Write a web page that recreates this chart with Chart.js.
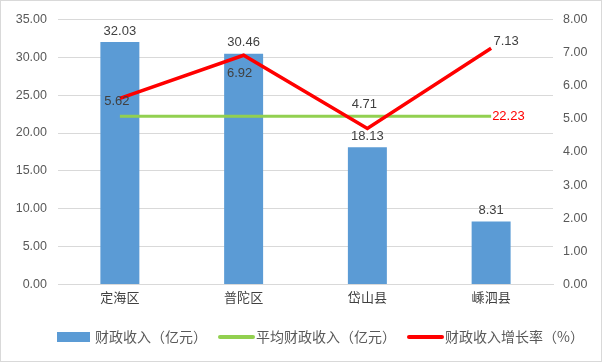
<!DOCTYPE html>
<html><head><meta charset="utf-8">
<script src="https://cdn.jsdelivr.net/npm/chart.js@4"></script>
<style>
html,body{margin:0;padding:0;background:#fff;}
#wrap{position:absolute;left:0;top:0;width:600px;height:360px;border:1px solid #d9d9d9;}
</style></head><body>
<div id="wrap"><canvas id="c" width="600" height="360"></canvas></div>
<script>
const categories = ['定海区','普陀区','岱山县','嵊泗县'];
const revenue = [32.03, 30.46, 18.13, 8.31];
const avgRevenue = [22.23, 22.23, 22.23, 22.23];
const growth = [5.62, 6.92, 4.71, 7.13];
const leftTicks = [0,5,10,15,20,25,30,35];
const rightTicks = [0,1,2,3,4,5,6,7,8];
const seriesNames = ['财政收入（亿元）','平均财政收入（亿元）','财政收入增长率（%）'];

const FONT = '"Noto Sans CJK SC", "Noto Sans", sans-serif';
const NUMFONT = '"Liberation Sans", Arial, sans-serif';

const labelPlugin = {
  id:'labels',
  afterDatasetsDraw(chart){
    const ctx = chart.ctx;
    ctx.save();
    ctx.font = '13px ' + NUMFONT;
    ctx.textAlign='center';
    ctx.textBaseline='middle';
    chart.getDatasetMeta(0).data.forEach((el,i)=>{
      ctx.fillStyle='#404040';
      ctx.fillText(revenue[i].toFixed(2), el.x, el.y-11);
    });
    const am = chart.getDatasetMeta(1).data;
    const last = am[am.length-1];
    ctx.fillStyle='#ff0000';
    ctx.textAlign='left';
    ctx.fillText(avgRevenue[avgRevenue.length-1].toFixed(2), last.x+1, last.y);
    const offs = [[-3,3],[-4,18],[-3,-24],[15,-7]];
    ctx.fillStyle='#404040';
    ctx.textAlign='center';
    chart.getDatasetMeta(2).data.forEach((el,i)=>{
      ctx.fillText(growth[i].toFixed(2), el.x+offs[i][0], el.y+offs[i][1]);
    });
    ctx.restore();
  }
};

const legendPlugin = {
  id:'customLegend',
  afterDraw(chart){
    const ctx = chart.ctx;
    ctx.save();
    ctx.font = '14px ' + FONT;
    ctx.textBaseline='middle';
    ctx.textAlign='left';
    let x = 56; const y = 336;
    chart.data.datasets.forEach((d,i)=>{
      if(d.type==='bar'){
        ctx.fillStyle=d.backgroundColor;
        ctx.fillRect(x, y-5, 33, 10);
      } else {
        ctx.strokeStyle=d.borderColor;
        ctx.lineWidth=4; ctx.lineCap='round';
        ctx.beginPath(); ctx.moveTo(x+2,y); ctx.lineTo(x+35,y); ctx.stroke();
      }
      x += 38;
      ctx.fillStyle='#595959';
      ctx.fillText(d.label, x, y);
      x += ctx.measureText(d.label).width + 11;
    });
    ctx.restore();
  }
};

new Chart(document.getElementById('c'),{
  data:{
    labels:categories,
    datasets:[
      {type:'bar',label:seriesNames[0],data:revenue,backgroundColor:'#5b9bd5',yAxisID:'y',barPercentage:0.63,categoryPercentage:0.5,order:3},
      {type:'line',label:seriesNames[1],data:avgRevenue,borderColor:'#92d050',backgroundColor:'#92d050',borderWidth:3,pointRadius:0,yAxisID:'y',order:2},
      {type:'line',label:seriesNames[2],data:growth,borderColor:'#ff0000',backgroundColor:'#ff0000',borderWidth:3.5,pointRadius:0,yAxisID:'y1',order:1,tension:0}
    ]
  },
  options:{
    responsive:false,animation:false,
    layout:{padding:{left:0,right:0,top:12,bottom:51}},
    plugins:{ legend:{display:false}, tooltip:{enabled:false} },
    scales:{
      x:{grid:{display:false,drawTicks:false},border:{color:'#d9d9d9'},
        ticks:{padding:5,font:{family:FONT,size:13},color:'#404040'}},
      y:{position:'left',min:0,max:35,afterBuildTicks(a){a.ticks=leftTicks.map(v=>({value:v}));},
        afterFit(s){s.width=57;},
        grid:{color:'#d9d9d9',drawTicks:false},border:{display:false},
        ticks:{padding:11,font:{family:NUMFONT,size:12.5},color:'#595959',callback:v=>v.toFixed(2)}},
      y1:{position:'right',min:0,max:8,afterBuildTicks(a){a.ticks=rightTicks.map(v=>({value:v}));},
        afterFit(s){s.width=48;},
        grid:{display:false,drawTicks:false},border:{display:false},
        ticks:{padding:10,font:{family:NUMFONT,size:12.5},color:'#595959',callback:v=>v.toFixed(2)}}
    }
  },
  plugins:[labelPlugin, legendPlugin]
});
</script></body></html>
